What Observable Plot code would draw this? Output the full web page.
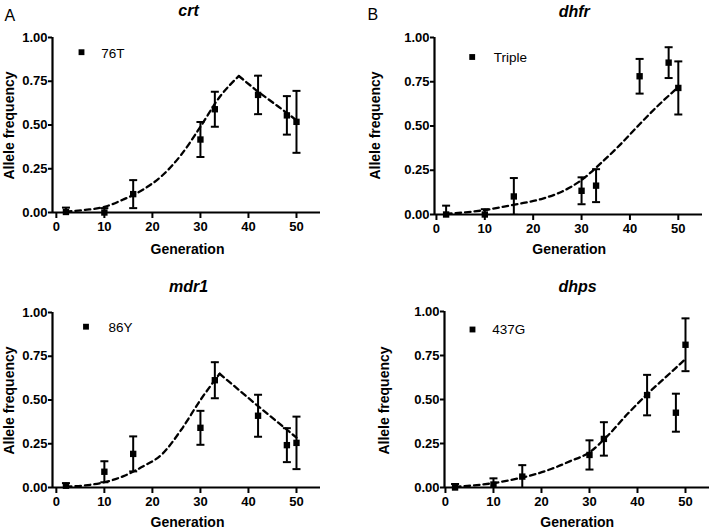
<!DOCTYPE html>
<html><head><meta charset="utf-8">
<script src="https://cdn.jsdelivr.net/npm/d3@7"></script>
<script src="https://cdn.jsdelivr.net/npm/@observablehq/plot@0.6"></script>
<style>
body{margin:0;background:#fff;}
#fig{position:relative;width:714px;height:530px;background:#fff;}
.panel{position:absolute;}
</style></head><body><div id="fig"></div>
<script>
// ---- data ----
const generations = [2, 10, 16, 30, 33, 42, 48, 50];
const xTicks = [0, 10, 20, 30, 40, 50];
const yTicks = [0, 0.25, 0.5, 0.75, 1];

const crtFreq = [0.003, 0.0, 0.105, 0.417, 0.59, 0.672, 0.555, 0.518];
const crtErr  = [0.025, 0.025, 0.08, 0.10, 0.10, 0.11, 0.11, 0.177];
const dhfrFreq = [0.0, 0.0, 0.102, 0.134, 0.163, 0.781, 0.858, 0.715];
const dhfrErr  = [0.05, 0.03, 0.104, 0.076, 0.093, 0.098, 0.087, 0.15];
const mdr1Freq = [0.01, 0.09, 0.192, 0.341, 0.613, 0.41, 0.242, 0.255];
const mdr1Err  = [0.015, 0.06, 0.10, 0.097, 0.103, 0.12, 0.097, 0.15];
const dhpsFreq = [0.0, 0.017, 0.062, 0.185, 0.276, 0.525, 0.425, 0.811];
const dhpsErr  = [0.02, 0.035, 0.065, 0.083, 0.095, 0.115, 0.108, 0.15];

// model curves (dashed)
const crtRiseGen = [2, 6, 10, 14, 18, 22, 26, 30, 34, 38];
const crtRiseVal = [0.005, 0.015, 0.032, 0.075, 0.13, 0.21, 0.33, 0.49, 0.66, 0.78];
const crtFallGen = [38, 42, 46, 50];
const crtFallVal = [0.78, 0.69, 0.61, 0.527];

const mdr1RiseGen = [2, 6, 10, 14, 18, 22, 26, 30, 34];
const mdr1RiseVal = [0.005, 0.012, 0.03, 0.065, 0.12, 0.19, 0.33, 0.50, 0.65];
const mdr1FallGen = [34, 42, 50];
const mdr1FallVal = [0.65, 0.465, 0.285];

const curveGen = [2, 6, 10, 14, 18, 22, 26, 30, 34, 38, 42, 46, 50];
const dhfrCurveVal = [0.005, 0.012, 0.025, 0.045, 0.065, 0.09, 0.13, 0.195, 0.29, 0.395, 0.51, 0.62, 0.72];
const dhpsCurveVal = [0.004, 0.012, 0.025, 0.045, 0.07, 0.105, 0.15, 0.20, 0.30, 0.42, 0.53, 0.63, 0.73];

const panelLetters = ["A", "B", "", ""];
const geneNames = ["crt", "dhfr", "mdr1", "dhps"];
const alleleNames = ["76T", "Triple", "86Y", "437G"];
const xLabel = "Generation";
const yLabel = "Allele frequency";

// ---- layout ----
const FONT = "'Liberation Sans', Arial, Helvetica, sans-serif";
const panels = [
  {left: 0, top: 0, ml: 52, mr: 37, mt: 37, mb: 53, xMin: -0.8,
   freq: crtFreq, err: crtErr,
   curves: [[crtRiseGen, crtRiseVal, "monotone-x"], [crtFallGen, crtFallVal, "linear"]],
   letter: [4, 20], title: [188, 15.5], ylab: [13, 125], xlab: [187, 253],
   legDot: [81, 51.7], legText: [100.7, 57]},
  {left: 357, top: 0, ml: 77, mr: 12, mt: 37, mb: 51, xMin: -0.4,
   freq: dhfrFreq, err: dhfrErr,
   curves: [[curveGen, dhfrCurveVal, "monotone-x"]],
   letter: [10, 19.5], title: [216.7, 16.5], ylab: [22.5, 125], xlab: [211.7, 253],
   legDot: [114.7, 56.5], legText: [136.3, 61.7]},
  {left: 0, top: 265, ml: 52, mr: 37, mt: 47, mb: 43, xMin: -0.8,
   freq: mdr1Freq, err: mdr1Err,
   curves: [[mdr1RiseGen, mdr1RiseVal, "monotone-x"], [mdr1FallGen, mdr1FallVal, "linear"]],
   letter: [4, 20], title: [188, 26], ylab: [13, 135], xlab: [187, 261.7],
   legDot: [85.5, 61.2], legText: [108, 66]},
  {left: 357, top: 265, ml: 87, mr: 5, mt: 46, mb: 43, xMin: -0.2,
   freq: dhpsFreq, err: dhpsErr,
   curves: [[curveGen, dhpsCurveVal, "monotone-x"]],
   letter: [4, 20], title: [220, 26], ylab: [31.3, 135], xlab: [219.7, 261.7],
   legDot: [115, 64], legText: [134.7, 68.3]}
];

const capSymbol = {
  draw(context) { context.moveTo(-4, 0); context.lineTo(4, 0); }
};

const fig = document.getElementById("fig");

panels.forEach((p, i) => {
  const at = (pt) => ({frameAnchor: "top-left", dx: pt[0] - p.ml, dy: pt[1] - p.mt});
  const pts = generations.map((g, k) => ({g, v: p.freq[k], lo: p.freq[k] - p.err[k], hi: p.freq[k] + p.err[k]}));
  const marks = [
    Plot.ruleY([0], {stroke: "#000", strokeWidth: 2.2}),
    Plot.ruleX([p.xMin], {stroke: "#000", strokeWidth: 2.2}),
    Plot.axisX({ticks: xTicks, tickSize: 6, tickPadding: 3, strokeWidth: 2, fontSize: 13, fontWeight: "bold", label: null, fill: "#000"}),
    Plot.axisY({ticks: yTicks, tickFormat: d3.format(".2f"), tickSize: 4, tickPadding: 1, strokeWidth: 2, fontSize: 13, fontWeight: "bold", label: null, fill: "#000"})
  ];
  p.curves.forEach(([gs, vs, curve]) => {
    const data = gs.map((g, k) => ({g, v: vs[k]}));
    marks.push(Plot.line(data, {x: "g", y: "v", curve, stroke: "#000", strokeWidth: 2.3, strokeDasharray: "5.5,4"}));
  });
  marks.push(
    Plot.ruleX(pts, {x: "g", y1: "lo", y2: "hi", stroke: "#000", strokeWidth: 2, clip: true}),
    Plot.dot(pts, {x: "g", y: "hi", symbol: capSymbol, r: 3, fill: "none", stroke: "#000", strokeWidth: 2, clip: true}),
    Plot.dot(pts, {x: "g", y: "lo", symbol: capSymbol, r: 3, fill: "none", stroke: "#000", strokeWidth: 2, clip: true}),
    Plot.dot(pts, {x: "g", y: "v", symbol: "square", r: 3.6, fill: "#000", stroke: "none"}),
    // legend
    Plot.dot([alleleNames[i]], {...at(p.legDot), symbol: "square", r: 3.3, fill: "#000", stroke: "none"}),
    Plot.text([alleleNames[i]], {...at(p.legText), text: d => d, textAnchor: "start", lineAnchor: "bottom", fontSize: 13.5, fill: "#000"}),
    // title
    Plot.text([geneNames[i]], {...at(p.title), text: d => d, textAnchor: "middle", lineAnchor: "bottom", fontSize: 16, fontWeight: "bold", fontStyle: "italic", fill: "#000"}),
    // axis labels
    Plot.text([yLabel], {...at(p.ylab), text: d => d, rotate: -90, textAnchor: "middle", lineAnchor: "bottom", fontSize: 14, fontWeight: "bold", fill: "#000"}),
    Plot.text([xLabel], {...at(p.xlab), text: d => d, textAnchor: "middle", lineAnchor: "bottom", fontSize: 14, fontWeight: "bold", fill: "#000"})
  );
  if (panelLetters[i]) {
    marks.push(Plot.text([panelLetters[i]], {...at(p.letter), text: d => d, textAnchor: "start", lineAnchor: "bottom", fontSize: 16, fill: "#000"}));
  }
  const chart = Plot.plot({
    width: 357, height: 265,
    marginLeft: p.ml, marginRight: p.mr, marginTop: p.mt, marginBottom: p.mb,
    x: {domain: [p.xMin, 55]},
    y: {domain: [0, 1]},
    style: {fontFamily: FONT, color: "#000", background: "transparent", overflow: "visible"},
    marks
  });
  const div = document.createElement("div");
  div.className = "panel";
  div.style.left = p.left + "px";
  div.style.top = p.top + "px";
  div.appendChild(chart);
  fig.appendChild(div);
});
</script>
</body></html>
